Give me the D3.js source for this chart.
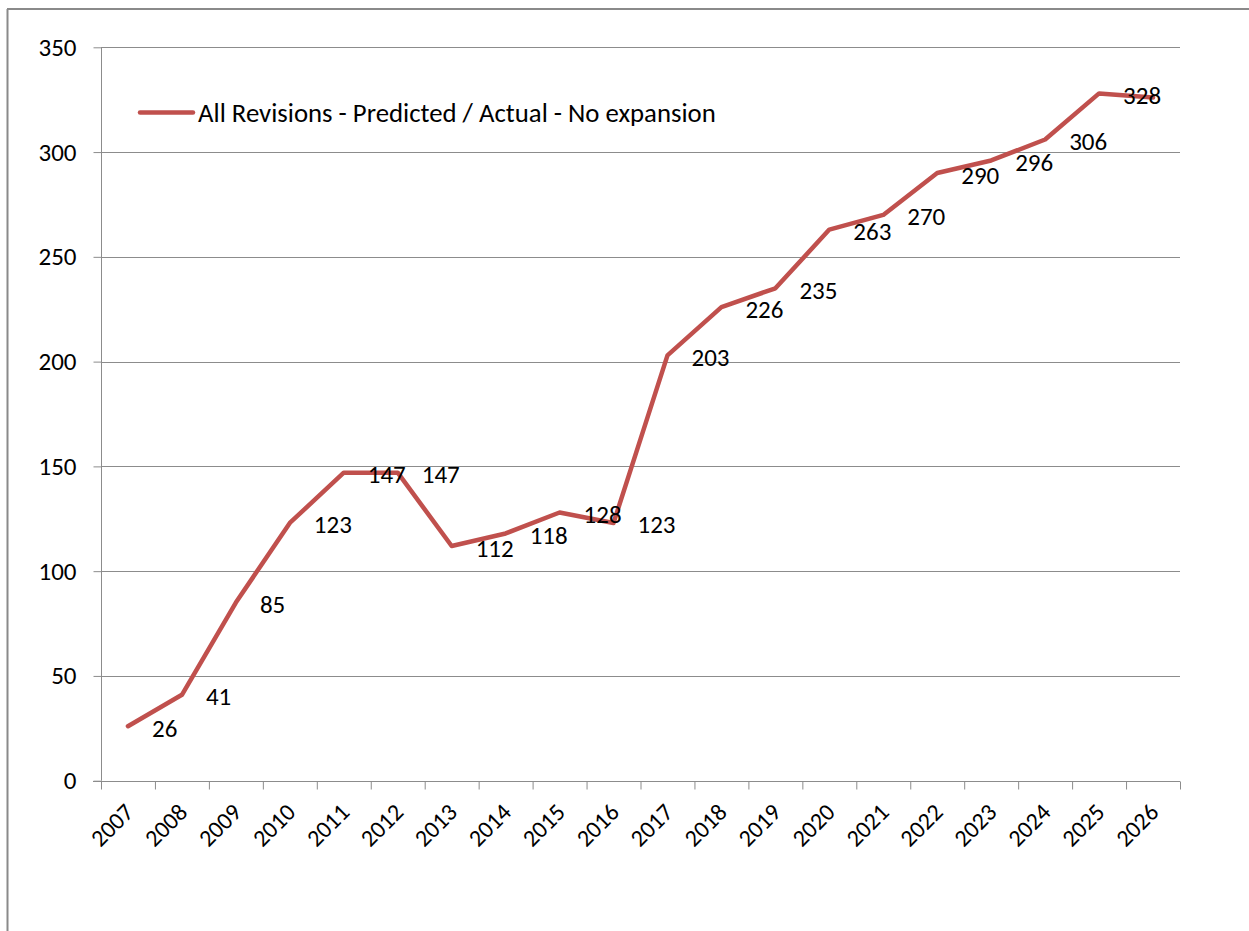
<!DOCTYPE html>
<html>
<head>
<meta charset="utf-8">
<script src="https://cdn.jsdelivr.net/npm/d3@7/dist/d3.min.js"></script>
<style>
  html, body { margin: 0; padding: 0; background: #fff; }
  svg { display: block; }
  text { font-family: Carlito, "Noto Sans", "Open Sans", sans-serif; fill: #000; }
</style>
</head>
<body>
<svg id="chart" width="1249" height="931"></svg>
<script>
const categories = ["2007","2008","2009","2010","2011","2012","2013","2014","2015","2016",
                    "2017","2018","2019","2020","2021","2022","2023","2024","2025","2026"];
const values = [26, 41, 85, 123, 147, 147, 112, 118, 128, 123,
                203, 226, 235, 263, 270, 290, 296, 306, 328, 326];
const dataLabels = ["26","41","85","123","147","147","112","118","128","123",
                    "203","226","235","263","270","290","296","306","328", null];
const yTicks = [0, 50, 100, 150, 200, 250, 300, 350];
const seriesName = "All Revisions - Predicted / Actual - No expansion";

(function () {
const svg = d3.select("#chart");
const W = 1249, H = 931;
const mLeft = 101, mRight = 1180, mTop = 47.3, mBottom = 780.7;
const lineColor = "#c0504d";
const axisColor = "#8c8c8c";

// outer frame (left and top edges visible)
svg.append("line").attr("x1", 7.5).attr("x2", 7.5).attr("y1", 9).attr("y2", H)
  .attr("stroke", "#8a8a8a").attr("stroke-width", 2);
svg.append("line").attr("x1", 7).attr("x2", W).attr("y1", 9).attr("y2", 9)
  .attr("stroke", "#8a8a8a").attr("stroke-width", 2);

const x = d3.scaleBand().domain(categories).range([mLeft, mRight]).paddingInner(0).paddingOuter(0);
const xEdges = d3.scaleLinear().domain([0, categories.length]).range([mLeft, mRight]);
const y = d3.scaleLinear().domain([0, 350]).range([mBottom, mTop]);

// gridlines
svg.append("g").selectAll("line").data(yTicks.filter(d => d > 0)).join("line")
  .attr("x1", mLeft).attr("x2", mRight)
  .attr("y1", d => Math.round(y(d)) + 0.5).attr("y2", d => Math.round(y(d)) + 0.5)
  .attr("stroke", axisColor).attr("stroke-width", 1);

// y axis
const yAxis = svg.append("g").attr("transform", `translate(${mLeft + 0.5},0)`)
  .call(d3.axisLeft(y).tickValues(yTicks).tickSize(8).tickPadding(17).tickFormat(d3.format("d")));
yAxis.select(".domain").attr("stroke", axisColor).attr("d", `M0,${mBottom}V${mTop}`);
yAxis.selectAll(".tick line").attr("stroke", axisColor);
yAxis.selectAll(".tick text").attr("font-size", 25).attr("fill", "#222")
  .style("font-family", 'Carlito, "Noto Sans", sans-serif');

// x axis (ticks at category boundaries)
const xAxis = svg.append("g").attr("transform", `translate(0,${Math.round(mBottom) + 0.5})`)
  .call(d3.axisBottom(xEdges).tickValues(d3.range(categories.length + 1)).tickSize(8).tickFormat(""));
xAxis.select(".domain").attr("stroke", axisColor).attr("d", `M${mLeft - 8},0H${mRight}`);
xAxis.selectAll(".tick line").attr("stroke", axisColor);

// x category labels
svg.append("g").selectAll("text").data(categories).join("text")
  .attr("transform", d => `translate(${x(d) + x.bandwidth() / 2 + 1},${mBottom + 27}) rotate(-45)`)
  .attr("text-anchor", "end")
  .attr("dominant-baseline", "central")
  .attr("font-size", 24)
  .text(d => d);

// line
const line = d3.line()
  .x((d, i) => x(categories[i]) + x.bandwidth() / 2)
  .y(d => y(d));
svg.append("path").datum(values)
  .attr("d", line)
  .attr("fill", "none")
  .attr("stroke", lineColor)
  .attr("stroke-width", 4.5)
  .attr("stroke-linejoin", "round")
  .attr("stroke-linecap", "round");

// data labels (to the right of each point)
svg.append("g").selectAll("text").data(values.map((v, i) => ({v, i, label: dataLabels[i]})).filter(d => d.label))
  .join("text")
  .attr("x", d => x(categories[d.i]) + x.bandwidth() / 2 + 24)
  .attr("y", d => y(d.v) + 2)
  .attr("dominant-baseline", "central")
  .attr("font-size", 25)
  .attr("fill", "#111")
  .text(d => d.label);

// legend
const lg = svg.append("g");
lg.append("line").attr("x1", 140).attr("x2", 193).attr("y1", 112.5).attr("y2", 112.5)
  .attr("stroke", lineColor).attr("stroke-width", 4.5).attr("stroke-linecap", "round");
const lt = lg.append("text").attr("x", 198).attr("y", 112.5)
  .attr("dominant-baseline", "central").attr("font-size", 20).attr("fill", "#111")
  .text(seriesName);
const targetW = 518;
const w = lt.node().getComputedTextLength();
if (w > 0) lt.attr("font-size", 20 * targetW / w);
})();
</script>
</body>
</html>
